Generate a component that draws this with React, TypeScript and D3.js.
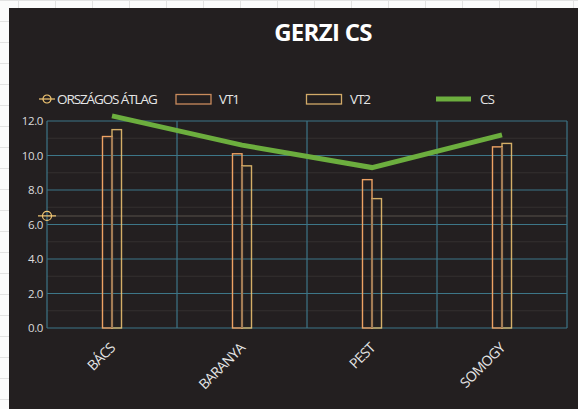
import React, { useRef, useEffect } from "react";
import * as d3 from "d3";

const categories = ["BÁCS", "BARANYA", "PEST", "SOMOGY"];
const vt1Values = [11.1, 10.1, 8.6, 10.5];
const vt2Values = [11.5, 9.4, 7.5, 10.7];
const csValues = [12.3, 10.6, 9.3, 11.2];
const atlagValue = 6.5;
const yTicks = [0, 2, 4, 6, 8, 10, 12];
const legendLabels = ["ORSZÁGOS ÁTLAG", "VT1", "VT2", "CS"];

const W = 578;
const H = 409;
const FONT = "'Open Sans', 'DejaVu Sans', sans-serif";

function GerziChart() {
  const svgRef = useRef<SVGSVGElement>(null);

  useEffect(() => {
    const svg = d3.select(svgRef.current);
    svg.selectAll("*").remove();

    // spreadsheet behind the chart
    svg.append("rect").attr("width", W).attr("height", H).attr("fill", "#fbfbfb");
    const sheet = svg.append("g").attr("stroke", "#e2e2e2").attr("stroke-width", 1);
    d3.range(0, H, 21).forEach((y) => {
      sheet.append("line").attr("x1", 0).attr("x2", W).attr("y1", y + 0.5).attr("y2", y + 0.5);
    });
    d3.range(18, W, 37).forEach((x) => {
      sheet.append("line").attr("x1", x + 0.5).attr("x2", x + 0.5).attr("y1", 0).attr("y2", H);
    });

    // chart area
    svg.append("rect").attr("x", 9).attr("y", 8).attr("width", W - 9).attr("height", H - 8).attr("fill", "#231f20");

    const margin = { top: 121, right: 11, bottom: 81, left: 47 };
    const x = d3.scaleBand().domain(categories).range([margin.left, W - margin.right]);
    const y = d3.scaleLinear().domain([0, 12]).range([H - margin.bottom, margin.top]);

    // minor gridlines
    svg.append("g")
      .selectAll("line")
      .data(d3.range(1, 12, 2))
      .enter()
      .append("line")
      .attr("x1", margin.left)
      .attr("x2", W - margin.right)
      .attr("y1", (d) => y(d))
      .attr("y2", (d) => y(d))
      .attr("stroke", "#35302f")
      .attr("stroke-width", 1);

    // major gridlines
    svg.append("g")
      .selectAll("line")
      .data(yTicks)
      .enter()
      .append("line")
      .attr("x1", margin.left)
      .attr("x2", W - margin.right)
      .attr("y1", (d) => y(d))
      .attr("y2", (d) => y(d))
      .attr("stroke", "#3d7688")
      .attr("stroke-width", 1.2);

    // vertical category gridlines
    const bounds = categories.map((c) => x(c) as number).concat([W - margin.right]);
    svg.append("g")
      .selectAll("line")
      .data(bounds)
      .enter()
      .append("line")
      .attr("x1", (d) => d)
      .attr("x2", (d) => d)
      .attr("y1", margin.top)
      .attr("y2", H - margin.bottom)
      .attr("stroke", "#3d7688")
      .attr("stroke-width", 1.2);

    // y tick labels
    svg.append("g")
      .selectAll("text")
      .data(yTicks)
      .enter()
      .append("text")
      .attr("x", margin.left - 4)
      .attr("y", (d) => y(d))
      .attr("dy", "0.35em")
      .attr("text-anchor", "end")
      .attr("font-family", FONT)
      .attr("font-size", 11.5)
      .attr("letter-spacing", -0.4)
      .attr("fill", "#dcdcdc")
      .text((d) => d.toFixed(1));

    // national average line
    svg.append("line")
      .attr("x1", margin.left)
      .attr("x2", W - margin.right)
      .attr("y1", y(atlagValue))
      .attr("y2", y(atlagValue))
      .attr("stroke", "#8a7f74")
      .attr("stroke-opacity", 0.35)
      .attr("stroke-width", 1.5);

    const bw = 9.5;
    const center = (c: string) => (x(c) as number) + x.bandwidth() / 2;

    // VT1 bars
    svg.append("g")
      .selectAll("rect")
      .data(vt1Values)
      .enter()
      .append("rect")
      .attr("x", (d, i) => center(categories[i]) - bw)
      .attr("y", (d) => y(d))
      .attr("width", bw)
      .attr("height", (d) => y(0) - y(d))
      .attr("fill", "none")
      .attr("stroke", "#eda264")
      .attr("stroke-width", 1.4);

    // VT2 bars
    svg.append("g")
      .selectAll("rect")
      .data(vt2Values)
      .enter()
      .append("rect")
      .attr("x", (d, i) => center(categories[i]))
      .attr("y", (d) => y(d))
      .attr("width", bw)
      .attr("height", (d) => y(0) - y(d))
      .attr("fill", "none")
      .attr("stroke", "#f3c874")
      .attr("stroke-opacity", 0.85)
      .attr("stroke-width", 1.4);

    // shared edge looks brownish
    svg.append("g")
      .selectAll("line")
      .data(vt1Values)
      .enter()
      .append("line")
      .attr("x1", (d, i) => center(categories[i]))
      .attr("x2", (d, i) => center(categories[i]))
      .attr("y1", (d, i) => y(Math.min(d, vt2Values[i])))
      .attr("y2", y(0))
      .attr("stroke", "#a37c55")
      .attr("stroke-width", 2.2);

    // CS line
    const line = d3
      .line<number>()
      .x((d, i) => center(categories[i]))
      .y((d) => y(d));
    svg.append("path")
      .datum(csValues)
      .attr("d", line)
      .attr("fill", "none")
      .attr("stroke", "#6cae3e")
      .attr("stroke-width", 5);

    // average marker at the axis
    const am = svg.append("g").attr("transform", `translate(${margin.left},${y(atlagValue)})`);
    am.append("line").attr("x1", -9).attr("x2", 9).attr("stroke", "#f3c874").attr("stroke-width", 1.2);
    am.append("circle").attr("r", 4.5).attr("fill", "none").attr("stroke", "#f3c874").attr("stroke-width", 1.2);

    // x labels
    svg.append("g")
      .selectAll("text")
      .data(categories)
      .enter()
      .append("text")
      .attr("transform", (d) => `translate(${center(d) - 3},${H - margin.bottom + 14}) rotate(-45)`)
      .attr("text-anchor", "end")
      .attr("dy", "0.7em")
      .attr("font-family", FONT)
      .attr("font-size", 14)
      .attr("letter-spacing", -0.6)
      .attr("fill", "#e6e6e6")
      .text((d) => d);

    // title
    svg.append("text")
      .attr("x", 323)
      .attr("y", 41)
      .attr("text-anchor", "middle")
      .attr("font-family", FONT)
      .attr("font-weight", "bold")
      .attr("font-size", 24)
      .attr("letter-spacing", -0.7)
      .attr("fill", "#ffffff")
      .text("GERZI CS");

    // legend
    const ly = 99;
    const legend = svg.append("g").attr("font-family", FONT).attr("font-size", 13.5).attr("fill", "#e6e6e6");
    const lg0 = legend.append("g").attr("transform", `translate(47,${ly})`);
    lg0.append("line").attr("x1", -8).attr("x2", 8).attr("stroke", "#f3c874").attr("stroke-width", 1.2);
    lg0.append("circle").attr("r", 4).attr("fill", "none").attr("stroke", "#f3c874").attr("stroke-width", 1.2);
    legend.append("rect").attr("x", 176).attr("y", 94.5).attr("width", 35).attr("height", 9.5).attr("fill", "none").attr("stroke", "#c98b5c").attr("stroke-width", 1.3);
    legend.append("rect").attr("x", 306.5).attr("y", 94.5).attr("width", 35).attr("height", 9.5).attr("fill", "none").attr("stroke", "#d2aa68").attr("stroke-width", 1.3);
    legend.append("line").attr("x1", 436).attr("x2", 471).attr("y1", ly).attr("y2", ly).attr("stroke", "#6cae3e").attr("stroke-width", 5);
    const lx = [57, 219, 350, 480];
    legend.selectAll("text")
      .data(legendLabels)
      .enter()
      .append("text")
      .attr("x", (d, i) => lx[i])
      .attr("y", ly)
      .attr("dy", "0.36em")
      .attr("letter-spacing", -1.1)
      .text((d) => d);
  }, []);

  return (
    <svg
      ref={svgRef}
      width={W}
      height={H}
      style={{ position: "absolute", left: 0, top: 0, display: "block" }}
    />
  );
}

export default function App() {
  return <GerziChart />;
}
